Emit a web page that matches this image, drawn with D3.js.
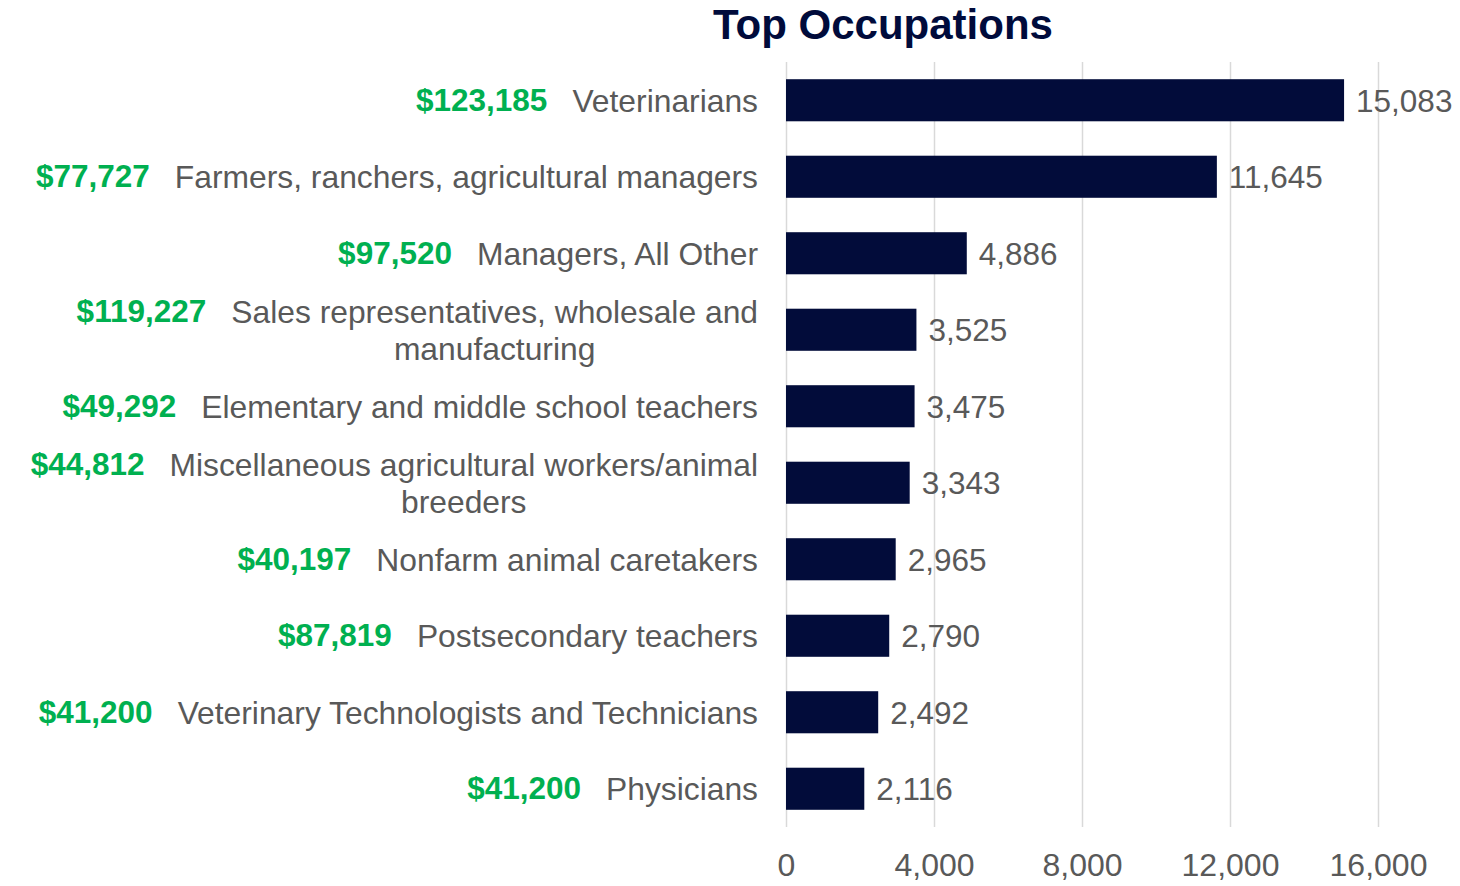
<!DOCTYPE html>
<html>
<head>
<meta charset="utf-8">
<script src="https://cdn.jsdelivr.net/npm/d3@7"></script>
<style>
  html, body { margin: 0; padding: 0; background: #fff; }
  svg { display: block; }
</style>
</head>
<body>
<svg id="chart" width="1460" height="886"></svg>
<script>
const categories = [
  "Veterinarians",
  "Farmers, ranchers, agricultural managers",
  "Managers, All Other",
  "Sales representatives, wholesale and\nmanufacturing",
  "Elementary and middle school teachers",
  "Miscellaneous agricultural workers/animal\nbreeders",
  "Nonfarm animal caretakers",
  "Postsecondary teachers",
  "Veterinary Technologists and Technicians",
  "Physicians"
];
const values = [15083, 11645, 4886, 3525, 3475, 3343, 2965, 2790, 2492, 2116];
const salaries = ["$123,185", "$77,727", "$97,520", "$119,227", "$49,292", "$44,812", "$40,197", "$87,819", "$41,200", "$41,200"];
const xTicks = [0, 4000, 8000, 12000, 16000];
const chartTitle = "Top Occupations";

(function () {
const svg = d3.select("#chart");
const font = "'Liberation Sans', Arial, sans-serif";
const plotLeft = 786, plotRight = 1378, plotTop = 62, plotBottom = 827;

const x = d3.scaleLinear().domain([0, 16000]).range([plotLeft, plotRight]);
const y = d3.scaleBand().domain(categories).range([plotTop, plotBottom]).paddingInner(0.45).paddingOuter(0.225);

// title
svg.append("text")
  .attr("x", 883).attr("y", 39)
  .attr("text-anchor", "middle")
  .attr("font-family", font).attr("font-weight", "bold").attr("font-size", 42)
  .attr("fill", "#000b3b")
  .text(chartTitle);

// gridlines + axis
const axisG = svg.append("g").attr("transform", `translate(0,${plotBottom})`)
  .call(d3.axisBottom(x).tickValues(xTicks).tickFormat(d3.format(",")).tickSize(-(plotBottom - plotTop)).tickPadding(26));
axisG.select(".domain").remove();
axisG.selectAll(".tick line").attr("stroke", "#d9d9d9").attr("stroke-width", 1.5);
axisG.selectAll(".tick text")
  .attr("font-family", font).attr("font-size", 32).attr("fill", "#595959");

// bars
svg.append("g").selectAll("rect").data(categories).join("rect")
  .attr("x", x(0))
  .attr("y", d => y(d))
  .attr("width", (d, i) => x(values[i]) - x(0))
  .attr("height", y.bandwidth())
  .attr("fill", "#020c3a");

// value labels
svg.append("g").selectAll("text").data(categories).join("text")
  .attr("x", (d, i) => x(values[i]) + 12)
  .attr("y", d => y(d) + y.bandwidth() / 2)
  .attr("dy", "0.36em")
  .attr("font-family", font).attr("font-size", 31.5).attr("fill", "#595959")
  .text((d, i) => d3.format(",")(values[i]));

// category labels with salaries
const labelRight = 758, lineH = 37, salaryGap = 25;
const lg = svg.append("g");
categories.forEach((cat, i) => {
  const lines = cat.split("\n");
  const cy = y(cat) + y.bandwidth() / 2;
  const t = lg.append("text")
    .attr("font-family", font).attr("font-size", 31.8).attr("fill", "#595959")
    .attr("text-anchor", "middle");
  const startY = cy - (lines.length - 1) * lineH / 2;
  const spans = lines.map((ln, k) => t.append("tspan").attr("y", startY + k * lineH).attr("dy", "0.36em").text(ln));
  let w = 0;
  spans.forEach(s => { w = Math.max(w, s.node().getComputedTextLength()); });
  spans.forEach(s => s.attr("x", labelRight - w / 2));
  lg.append("text")
    .attr("x", labelRight - w - salaryGap)
    .attr("y", startY - 1)
    .attr("dy", "0.36em")
    .attr("text-anchor", "end")
    .attr("font-family", font).attr("font-weight", "bold").attr("font-size", 31.5)
    .attr("fill", "#00b050")
    .text(salaries[i]);
});
})();
</script>
</body>
</html>
